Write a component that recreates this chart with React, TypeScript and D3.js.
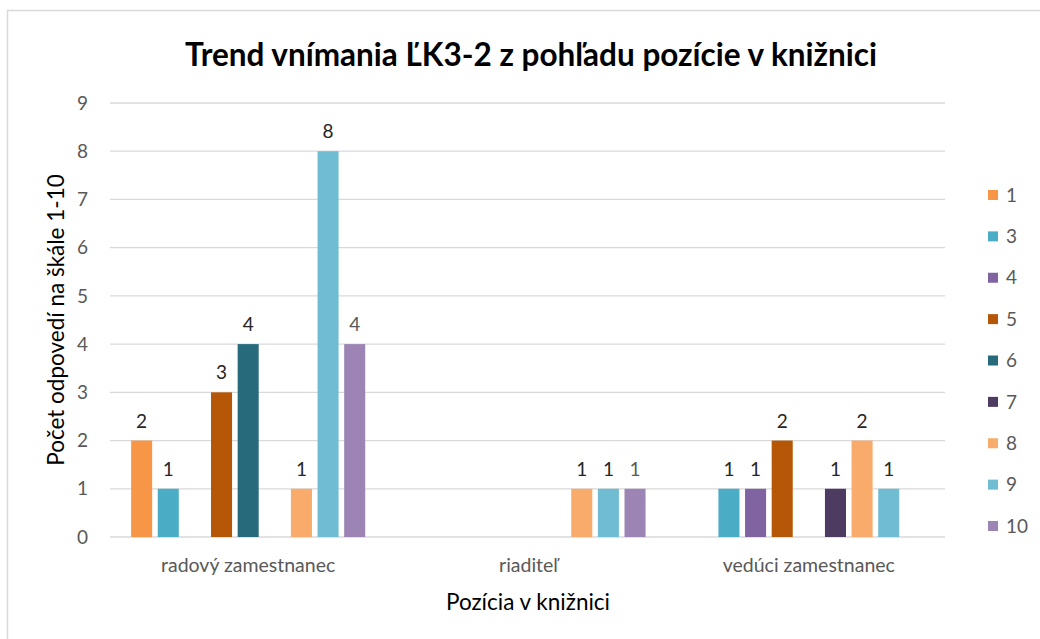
import React from "react";
import * as d3 from "d3";

const categories = ["radový zamestnanec", "riaditeľ", "vedúci zamestnanec"];
const seriesNames = ["1", "3", "4", "5", "6", "7", "8", "9", "10"];
const seriesColors = ["#F79646", "#4BACC6", "#8064A2", "#B65708", "#276A7C", "#4D3B62", "#F9AB6B", "#70BCD2", "#9C85B5"];
// values per series, one entry per category (null = no bar)
const s1 = [2, null, null];
const s3 = [1, null, 1];
const s4 = [null, null, 1];
const s5 = [3, null, 2];
const s6 = [4, null, null];
const s7 = [null, null, 1];
const s8 = [1, 1, 2];
const s9 = [8, 1, 1];
const s10 = [4, 1, null];
const seriesValues = [s1, s3, s4, s5, s6, s7, s8, s9, s10];
const yTicks = [0, 1, 2, 3, 4, 5, 6, 7, 8, 9];

const title = "Trend vnímania ĽK3-2 z pohľadu pozície v knižnici";
const xTitle = "Pozícia v knižnici";
const yTitle = "Počet odpovedí na škále 1-10";

const FONT = "Lato, 'Open Sans', sans-serif";

export default function App() {
  const W = 1040, H = 639;
  const plotLeft = 108, plotRight = 949, plotTop = 103, plotBottom = 537;

  const x0 = d3.scaleBand<string>().domain(categories).range([plotLeft, plotRight]).paddingInner(0.145).paddingOuter(0.0725);
  const x1 = d3.scaleBand<string>().domain(seriesNames).range([0, x0.bandwidth()]).paddingInner(0.21).paddingOuter(0.105);
  const y = d3.scaleLinear().domain([0, 9]).range([plotBottom, plotTop]);

  const legendY = d3.scalePoint<string>().domain(seriesNames).range([195, 526]);

  return (
    <svg width={W} height={H} style={{ position: "absolute", left: 0, top: 0, display: "block" }} fontFamily={FONT}>
      <rect x={0} y={0} width={W} height={H} fill="#fff" />
      <rect x={7.5} y={10.5} width={W + 20} height={H + 20} fill="#fff" stroke="#d9d9d9" strokeWidth={1.5} />
      <text x={531} y={66} textAnchor="middle" fontSize={31.5} fontWeight="bold" fill="#000">{title}</text>

      {yTicks.map(t => (
        <g key={t}>
          <line x1={plotLeft + 2} x2={plotRight - 4} y1={y(t)} y2={y(t)} stroke="#d9d9d9" strokeWidth={1.3} />
          <text x={88} y={y(t)} dy="0.35em" textAnchor="end" fontSize={19} fill="#595959">{t}</text>
        </g>
      ))}

      {seriesValues.map((vals, si) => vals.map((v, ci) => {
        if (v == null) return null;
        const bx = (x0(categories[ci]) ?? 0) + (x1(seriesNames[si]) ?? 0);
        const bw = x1.bandwidth();
        return (
          <g key={`${si}-${ci}`}>
            <rect x={bx} y={y(v)} width={bw} height={y(0) - y(v)} fill={seriesColors[si]} />
            <text x={bx + bw / 2} y={y(v) - 13} textAnchor="middle" fontSize={19} fill={si === 8 ? "#595959" : "#262626"}>{v}</text>
          </g>
        );
      }))}

      {categories.map(c => (
        <text key={c} x={(x0(c) ?? 0) + x0.bandwidth() / 2} y={572} textAnchor="middle" fontSize={19.5} fill="#595959">{c}</text>
      ))}
      <text x={528} y={610} textAnchor="middle" fontSize={22.5} fill="#000">{xTitle}</text>
      <text transform={`translate(64,320) rotate(-90)`} textAnchor="middle" fontSize={22.5} fill="#000">{yTitle}</text>

      {seriesNames.map((s, i) => (
        <g key={s}>
          <rect x={988} y={(legendY(s) ?? 0) - 5} width={10} height={10} fill={seriesColors[i]} />
          <text x={1006} y={legendY(s) ?? 0} dy="0.35em" fontSize={19} fill="#595959">{s}</text>
        </g>
      ))}
    </svg>
  );
}
